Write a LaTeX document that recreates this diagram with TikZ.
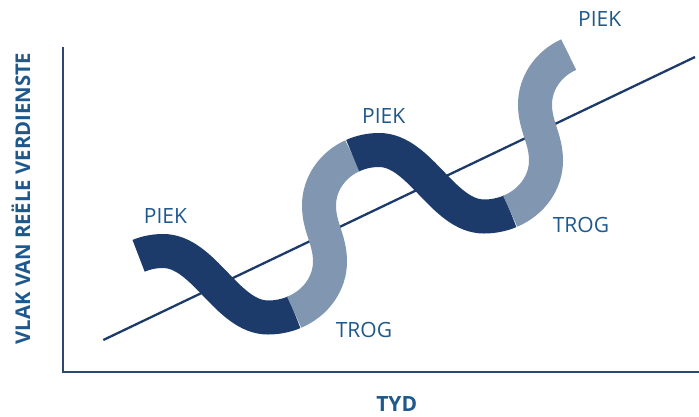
\documentclass[tikz,border=0pt]{standalone}
\usepackage{fontspec}
\setmainfont{Open Sans}
\usetikzlibrary{calc}
\definecolor{bandDark}{RGB}{28,59,107}
\definecolor{bandLight}{RGB}{129,150,177}
\definecolor{txtBlue}{RGB}{30,88,140}
\definecolor{axisCol}{RGB}{45,72,110}
\tikzset{
  band/.style={line width=34pt, line cap=butt},
  darkband/.style={band, draw=bandDark},
  lightband/.style={band, draw=bandLight},
  lbl/.style={inner sep=0pt, text=txtBlue, font=\fontsize{21}{25}\selectfont},
  axlbl/.style={inner sep=0pt, text=txtBlue, font=\fontsize{21}{25}\selectfont\bfseries},
  axisline/.style={draw=axisCol, line width=1.2pt},
  trend/.style={draw=bandDark, line width=2.3pt}
}
\begin{document}
\begin{tikzpicture}[x=1pt,y=1pt]
\useasboundingbox (0,0) rectangle (699,416);
% axes
\coordinate (ytop) at (63,369);
\coordinate (orig) at (63,44);
\coordinate (xend) at (699,44);
\draw[axisline] (ytop) -- (orig) -- (xend);
% trend line
\coordinate (tra) at (103.3,76);
\coordinate (trb) at (695,359);
\draw[trend] (tra) -- (trb);
% key points of the wave
\coordinate (p0) at (163,165);
\coordinate (cp0) at (163,109.5);
\coordinate (t0) at (268,98.5);
\coordinate (ct0) at (268,154.5);
\coordinate (r0) at (330,154.5);
\coordinate (l1) at (319,210.5);
\coordinate (p1) at (379,266);
\coordinate (cp1) at (379,210.5);
\coordinate (t1) at (484,199.5);
\coordinate (ct1) at (484,255.5);
\coordinate (r1) at (546,255.5);
\coordinate (l2) at (535,311.5);
\coordinate (cp2) at (595,311.5);
% dark part 1
\draw[darkband] ($(cp0)+(114:60 and 55.5)$)
  arc[start angle=114, end angle=90, x radius=60, y radius=55.5]
  .. controls ($(p0)+(41,0)$) and ($(t0)+(-41,0)$) .. (t0)
  arc[start angle=-90, end angle=-65, x radius=62, y radius=56];
% light part 1
\draw[lightband] ($(ct0)+(-65:62 and 56)$)
  arc[start angle=-65, end angle=0, x radius=62, y radius=56]
  .. controls ($(r0)+(0,22)$) and ($(l1)+(0,-22)$) .. (l1)
  arc[start angle=180, end angle=116, x radius=60, y radius=55.5];
% dark part 2
\draw[darkband] ($(cp1)+(116:60 and 55.5)$)
  arc[start angle=116, end angle=90, x radius=60, y radius=55.5]
  .. controls ($(p1)+(41,0)$) and ($(t1)+(-41,0)$) .. (t1)
  arc[start angle=-90, end angle=-65, x radius=62, y radius=56];
% light part 2
\draw[lightband] ($(ct1)+(-65:62 and 56)$)
  arc[start angle=-65, end angle=0, x radius=62, y radius=56]
  .. controls ($(r1)+(0,22)$) and ($(l2)+(0,-22)$) .. (l2)
  arc[start angle=180, end angle=116, x radius=60, y radius=55.5];
% labels
\node[lbl] (piek1) at (165.5,199.5) {PIEK};
\node[lbl] (piek2) at (383.7,300) {PIEK};
\node[lbl] (piek3) at (599.7,397) {PIEK};
\node[lbl] (trog1) at (364,86.5) {TROG};
\node[lbl] (trog2) at (581,191) {TROG};
\node[axlbl] (tyd) at (396.7,12) {TYD};
\node[axlbl, rotate=90, font=\fontsize{20.3}{24}\selectfont\bfseries] (ylab) at (21,217.5) {VLAK VAN REËLE VERDIENSTE};
\end{tikzpicture}
\end{document}
